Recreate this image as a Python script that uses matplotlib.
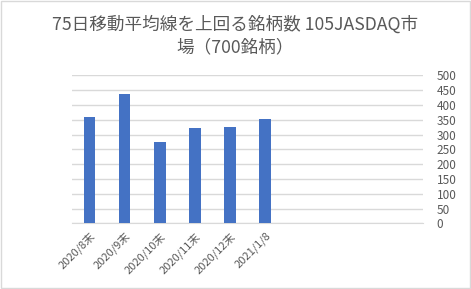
import numpy as np
import matplotlib.pyplot as plt
from matplotlib.patches import Rectangle

plt.rcParams['font.family'] = ['Noto Sans CJK JP', 'DejaVu Sans']

# data
labels = ['2020/8末', '2020/9末', '2020/10末', '2020/11末', '2020/12末', '2021/1/8', '', '', '', '']
values = [361, 438, 276, 323, 327, 353]
yticks = [0, 50, 100, 150, 200, 250, 300, 350, 400, 450, 500]

fig = plt.figure(figsize=(4.71, 2.89), dpi=100)
ax = fig.add_axes([0.153, 0.227, 0.745, 0.512])

x = np.arange(len(labels))
ax.bar(x[:len(values)], values, width=0.33, color='#4472c4', zorder=3)

ax.set_xlim(-0.5, len(labels) - 0.5)
ax.set_ylim(0, 500)
ax.set_yticks(yticks)
ax.yaxis.tick_right()
ax.grid(axis='y', color='#d9d9d9', linewidth=1, zorder=0)
ax.set_xticks(x)
ax.set_xticklabels(labels, rotation=45, ha='right', rotation_mode='anchor',
                   fontsize=8, color='#595959')
ax.tick_params(axis='y', labelsize=8.5, labelcolor='#595959', length=0, pad=10)
ax.tick_params(axis='x', length=0, pad=5)
for s in ['top', 'left', 'right']:
    ax.spines[s].set_visible(False)
ax.spines['bottom'].set_color('#d9d9d9')

fig.text(0.5, 0.877, '75日移動平均線を上回る銘柄数 105JASDAQ市\n場（700銘柄）',
         ha='center', va='center', fontsize=12.7, color='#595959', linespacing=1.35)

fig.patches.append(Rectangle((0.002, 0.003), 0.996, 0.994, transform=fig.transFigure,
                             fill=False, edgecolor='#d9d9d9', linewidth=1))

plt.savefig('out.png', dpi=100)
